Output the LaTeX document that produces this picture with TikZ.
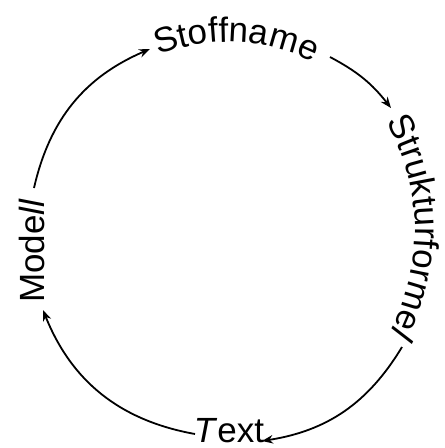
\documentclass[tikz,border=0pt]{standalone}
\usepackage{fontspec}
\setmainfont{Liberation Sans}
\usetikzlibrary{arrows.meta,decorations.text}
\tikzset{
  lbl/.style={font=\fontsize{35}{40}\selectfont, inner sep=0pt},
  conn/.style={line width=1.8pt, -{Stealth[length=11pt,width=8.5pt]}},
  curvetext/.style={decorate, decoration={text along path, text align=center, text={#1}}}
}
\begin{document}
\begin{tikzpicture}[x=1pt,y=1pt]
\useasboundingbox (0,0) rectangle (445,-448);
% straight labels
\node[lbl, anchor=base] (text) at (229,-442) {\textit{T}ext};
\node[lbl, rotate=90, anchor=base] (modell) at (44,-251) {Mode\textit{ll}};
% curved labels
\path[curvetext={|\fontsize{35}{40}\selectfont|Stoffname}]
  [shift={(228,-232)}] (140:190) arc[start angle=140, end angle=35, radius=190];
\path[curvetext={|\fontsize{35}{40}\selectfont|Strukturforme|\fontsize{35}{40}\selectfont\itshape|l}]
  [shift={(195,-230)}] (60:220) arc[start angle=60, end angle=-58, radius=220];
% connector end points
\coordinate (a1s) at (34,-188);  \coordinate (a1e) at (150,-49);
\coordinate (a2s) at (330,-57);  \coordinate (a2e) at (391,-108);
\coordinate (a3s) at (402,-347); \coordinate (a3e) at (262,-441);
\coordinate (a4s) at (195,-434); \coordinate (a4e) at (43,-310);
\draw[conn] (a1s) to[bend left=27] (a1e);
\draw[conn] (a2s) to[bend left=12] (a2e);
\draw[conn] (a3s) to[bend left=25] (a3e);
\draw[conn] (a4s) to[bend left=29] (a4e);
\end{tikzpicture}
\end{document}
